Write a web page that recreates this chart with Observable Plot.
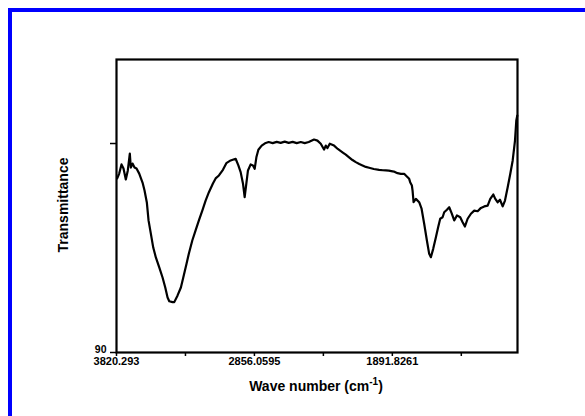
<!DOCTYPE html>
<html>
<head>
<meta charset="utf-8">
<script src="https://cdn.jsdelivr.net/npm/d3@7"></script>
<script src="https://cdn.jsdelivr.net/npm/@observablehq/plot@0.6"></script>
<style>
  html, body { margin: 0; padding: 0; background: #fff; overflow: hidden; width: 585px; height: 416px; }
  #frame { position: absolute; left: 8px; top: 8px; width: 700px; height: 600px;
           border-left: 4px solid #0000ff; border-top: 4px solid #0000ff; }
  #chart { position: absolute; left: 0; top: 0; }
</style>
</head>
<body>
<div id="frame"></div>
<div id="chart"></div>
<script>
// Wave number (cm^-1)
const wavenumber = [
  3815.4, 3801.4, 3785.3, 3771.3, 3755.2, 3741.2, 3727.2, 3720.2, 3708.3, 3694.3,
  3680.3, 3661.4, 3638.3, 3624.3, 3608.2, 3596.3, 3580.2, 3563.4, 3545.2, 3521.4,
  3498.3, 3479.4, 3463.3, 3451.4, 3428.3, 3416.4, 3393.3, 3370.2, 3353.4, 3330.3,
  3314.2, 3290.4, 3267.3, 3244.2, 3220.4, 3197.3, 3174.2, 3146.2, 3127.3, 3104.2,
  3076.2, 3052.4, 3022.3, 2987.3, 2968.4, 2952.3, 2936.2, 2924.3, 2912.4, 2901.2,
  2882.3, 2866.2, 2854.3, 2842.4, 2828.4, 2805.3, 2782.2, 2756.3, 2728.3, 2700.3,
  2672.3, 2644.3, 2616.3, 2588.3, 2560.3, 2532.3, 2504.3, 2476.3, 2439.2, 2415.4,
  2392.3, 2369.2, 2357.3, 2345.4, 2329.3, 2299.2, 2273.3, 2240.4, 2217.3, 2194.2,
  2170.4, 2147.3, 2122.8, 2100.4, 2077.3, 2054.2, 2021.3, 1984.2, 1958.3, 1937.3,
  1916.3, 1890.4, 1874.3, 1855.4, 1832.3, 1809.2, 1797.3, 1774.2, 1767.2, 1755.3,
  1750.4, 1743.4, 1727.3, 1704.2, 1687.4, 1669.2, 1650.3, 1634.2, 1622.3, 1606.2,
  1587.3, 1571.2, 1557.2, 1540.4, 1529.2, 1510.3, 1494.2, 1477.4, 1459.2, 1440.3,
  1417.2, 1400.4, 1384.3, 1365.4, 1342.3, 1319.2, 1295.4, 1272.3, 1249.2, 1225.4,
  1207.2, 1186.2, 1172.2, 1155.4, 1139.3, 1120.4, 1104.3, 1085.4, 1067.2, 1050.4,
  1034.3, 1025.2, 1018.2
];
// Transmittance
const transmittance = [
  98.33, 98.56, 99.00, 98.80, 98.28, 98.71, 99.52, 98.85, 99.04, 98.85,
  98.80, 98.56, 98.13, 97.75, 97.18, 96.32, 95.69, 95.02, 94.55, 94.07,
  93.59, 93.11, 92.63, 92.45, 92.41, 92.41, 92.73, 93.11, 93.59, 94.26,
  94.74, 95.36, 95.84, 96.32, 96.79, 97.27, 97.67, 98.09, 98.33, 98.47,
  98.74, 99.06, 99.19, 99.27, 98.95, 98.63, 98.09, 97.43, 98.09, 98.71,
  99.00, 98.95, 98.79, 99.34, 99.70, 99.90, 100.01, 100.07, 100.02, 100.08,
  100.03, 100.09, 100.03, 100.08, 100.02, 100.07, 100.02, 100.07, 100.19, 100.14,
  99.99, 99.71, 99.90, 99.78, 99.99, 99.90, 99.74, 99.58, 99.47, 99.34,
  99.21, 99.11, 99.02, 98.95, 98.88, 98.84, 98.78, 98.74, 98.72, 98.71,
  98.70, 98.67, 98.64, 98.58, 98.55, 98.55, 98.47, 98.31, 98.15, 97.99,
  97.75, 97.19, 97.35, 97.19, 96.88, 96.16, 95.36, 94.72, 94.56, 94.96,
  95.52, 96.00, 96.40, 96.47, 96.71, 96.83, 96.95, 96.67, 96.32, 96.56,
  96.47, 96.23, 96.03, 96.40, 96.64, 96.79, 96.76, 96.92, 96.99, 97.03,
  97.35, 97.56, 97.35, 97.19, 97.31, 96.99, 97.27, 97.91, 98.55, 99.19,
  100.14, 101.10, 101.34
];

const xTicks = [3820.293, 3338.17625, 2856.0595, 2373.9428, 1891.8261, 1409.70945];
const xTickLabels = ["3820.293", "", "2856.0595", "", "1891.8261", ""];
const yTicks = [90, 100];
const yTickLabels = ["90", ""];
const xDomain = [3820.293, 1016.8];
const yDomain = [90, 104.02];

const data = wavenumber.map((w, i) => ({w, t: transmittance[i]}));
const yLabelData = yTicks.map((v, i) => ({v, s: yTickLabels[i]})).filter(d => d.s);

const font = "'Liberation Sans', Arial, sans-serif";

const chart = Plot.plot({
  width: 585,
  height: 416,
  marginLeft: 116,
  marginRight: 68,
  marginTop: 59,
  marginBottom: 64,
  style: {fontFamily: font, fontSize: "11px", fontWeight: "bold", background: "transparent", color: "#000"},
  x: {domain: xDomain, ticks: xTicks, label: null},
  y: {domain: yDomain, ticks: yTicks, label: null},
  marks: [
    Plot.line(data, {x: "w", y: "t", stroke: "#000", strokeWidth: 2.2, curve: "linear"}),
    Plot.axisX({ticks: xTicks, tickSize: 4, tickPadding: 1, tickFormat: (d, i) => xTickLabels[xTicks.indexOf(d)], label: null, strokeWidth: 1.5, fill: "#000"}),
    Plot.axisY({ticks: yTicks, tickSize: 6, tickFormat: () => "", label: null, strokeWidth: 1.5}),
    Plot.text(yLabelData, {y: "v", text: "s", frameAnchor: "left", dx: -10, dy: -3, textAnchor: "end", fontSize: 10.5, fontWeight: "bold", fill: "#000"}),
    Plot.frame({stroke: "#000", strokeWidth: 2.2})
  ]
});

const svg = d3.select(chart);
svg.append("text")
  .attr("x", 316).attr("y", 391)
  .attr("text-anchor", "middle")
  .style("font-family", font).style("font-size", "14px").style("font-weight", "bold")
  .call(t => {
    t.append("tspan").text("Wave number (cm");
    t.append("tspan").attr("dy", -6).style("font-size", "10px").text("-1");
    t.append("tspan").attr("dy", 6).text(")");
  });
svg.append("text")
  .attr("transform", "translate(68,205) rotate(-90)")
  .attr("text-anchor", "middle")
  .style("font-family", font).style("font-size", "14px").style("font-weight", "bold")
  .text("Transmittance");

document.getElementById("chart").appendChild(chart);
</script>
</body>
</html>
